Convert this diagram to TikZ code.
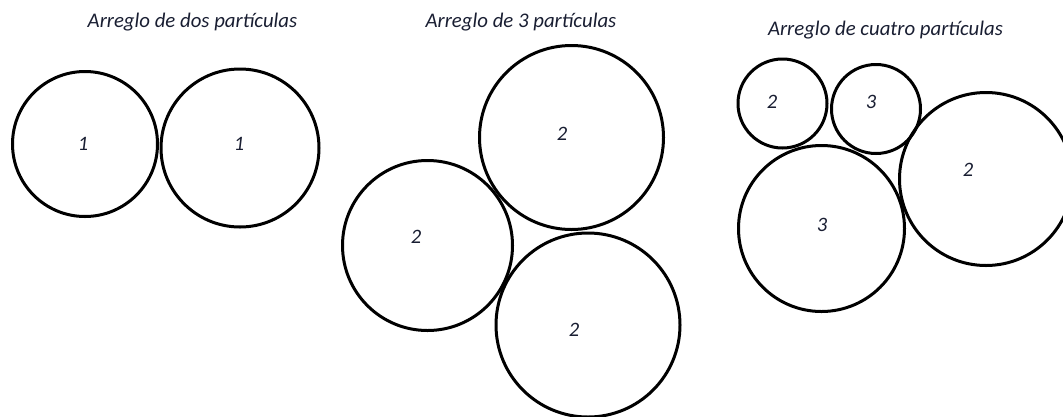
\documentclass[tikz,border=0pt]{standalone}
\usepackage{fontspec}
\setmainfont{Carlito}
\definecolor{txt}{RGB}{25,30,50}
\begin{document}
\begin{tikzpicture}[x=1pt,y=-1pt,
  ball/.style={circle,draw=black,line width=3pt,inner sep=0pt,minimum size=#1},
  lbl/.style={font=\fontsize{20.5}{24}\selectfont\itshape,text=txt,inner sep=0pt},
  ttl/.style={font=\fontsize{20.8}{24}\selectfont\itshape,text=txt,inner sep=0pt,anchor=base}]
\useasboundingbox (0,0) rectangle (1063,416);
\clip (0,0) rectangle (1063,416);
% group 1
\node[ttl] (t1) at (192.5,27) {Arreglo de dos partículas};
\node[ball=145pt] (a1) at (85,144) {};
\node[ball=158pt] (a2) at (240,148) {};
\node[lbl] (la1) at (83,144) {1};
\node[lbl] (la2) at (239,144) {1};
% group 2
\node[ttl] (t2) at (521,27) {Arreglo de 3 partículas};
\node[ball=184pt] (b1) at (571.5,137.5) {};
\node[ball=170pt] (b2) at (427.5,245.5) {};
\node[ball=184pt] (b3) at (588,325) {};
\node[lbl] (lb1) at (562,134) {2};
\node[lbl] (lb2) at (416,237) {2};
\node[lbl] (lb3) at (574,330) {2};
% group 3
\node[ttl] (t3) at (885.5,35) {Arreglo de cuatro partículas};
\node[ball=89pt] (c1) at (782.5,103.5) {};
\node[ball=89pt] (c2) at (876,109) {};
\node[ball=166pt] (c3) at (821.5,228.5) {};
\node[ball=173pt] (c4) at (986,179) {};
\node[lbl] (lc1) at (772,102) {2};
\node[lbl] (lc2) at (871,102) {3};
\node[lbl] (lc3) at (822,225) {3};
\node[lbl] (lc4) at (968,170) {2};
\end{tikzpicture}
\end{document}
